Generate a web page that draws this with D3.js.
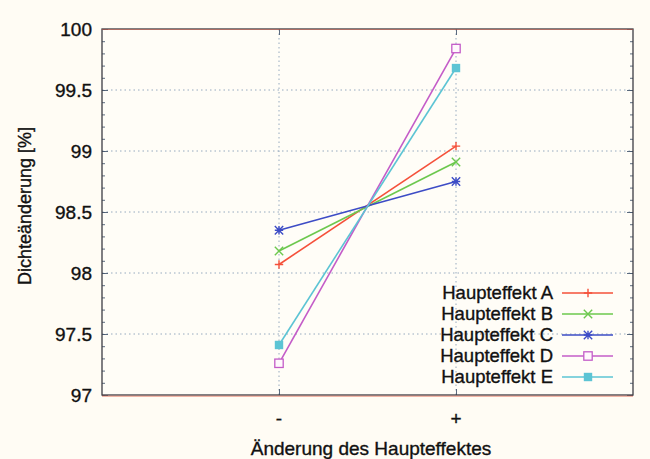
<!DOCTYPE html>
<html>
<head>
<meta charset="utf-8">
<script src="https://cdn.jsdelivr.net/npm/d3@7"></script>
<style>
  html, body { margin: 0; padding: 0; background: #fffcf4; }
  svg { display: block; font-family: "Liberation Sans", Arial, sans-serif; }
  .lbl { fill: #111; stroke: #111; stroke-width: 0.35px; }
</style>
</head>
<body>
<svg id="chart" width="650" height="459"></svg>
<script>
// Factor levels on the x axis
const levels = ["-", "+"];
// Series names and density change [%] at each level
const seriesNames = ["Haupteffekt A", "Haupteffekt B", "Haupteffekt C", "Haupteffekt D", "Haupteffekt E"];
const valuesA = [98.07, 99.04];
const valuesB = [98.18, 98.91];
const valuesC = [98.35, 98.75];
const valuesD = [97.26, 99.84];
const valuesE = [97.41, 99.68];
const yTicks = [97, 97.5, 98, 98.5, 99, 99.5, 100];

const seriesValues = [valuesA, valuesB, valuesC, valuesD, valuesE];
const colors = ["#f5503a", "#6cc84e", "#3d4cc6", "#c45cc8", "#5cc4d4"];
const markers = ["plus", "cross", "star", "square", "filled"];

const svg = d3.select("#chart");
const plotLeft = 102, plotRight = 633, plotTop = 29, plotBottom = 395;

const x = d3.scaleLinear().domain([0, 3]).range([plotLeft, plotRight]);
const y = d3.scaleLinear().domain([97, 100]).range([plotBottom, plotTop]);

// plot background
svg.append("rect").attr("x", plotLeft).attr("y", plotTop)
  .attr("width", plotRight - plotLeft).attr("height", plotBottom - plotTop)
  .attr("fill", "#fffdf7");

// dotted grid
const grid = svg.append("g").attr("stroke", "#8aa0b8").attr("stroke-width", 0.9)
  .attr("stroke-dasharray", "1.5,3");
yTicks.slice(1, -1).forEach(v => {
  grid.append("line").attr("x1", plotLeft).attr("x2", plotRight)
    .attr("y1", y(v)).attr("y2", y(v));
});
levels.forEach((l, i) => {
  grid.append("line").attr("x1", x(i + 1)).attr("x2", x(i + 1))
    .attr("y1", plotTop).attr("y2", plotBottom);
});

// y axis (left and right) with minor ticks inside the frame
const minor = d3.range(97, 100.001, 0.1).map(v => +v.toFixed(1));
const yAxisL = d3.axisRight(y).tickValues(yTicks).tickFormat("").tickSize(6);
const yAxisLMinor = d3.axisRight(y).tickValues(minor).tickFormat("").tickSize(3);
const yAxisR = d3.axisLeft(y).tickValues(yTicks).tickFormat("").tickSize(6);
const yAxisRMinor = d3.axisLeft(y).tickValues(minor).tickFormat("").tickSize(3);
[[yAxisL, plotLeft], [yAxisLMinor, plotLeft], [yAxisR, plotRight], [yAxisRMinor, plotRight]].forEach(([ax, px]) => {
  const g = svg.append("g").attr("transform", `translate(${px},0)`).call(ax);
  g.select(".domain").remove();
  g.selectAll("line").attr("stroke", "#4a5a70").attr("stroke-width", 0.9);
});

// y tick labels
svg.append("g").selectAll("text").data(yTicks).join("text")
  .attr("class", "lbl")
  .attr("x", 92).attr("y", d => y(d)).attr("dy", "0.35em")
  .attr("text-anchor", "end").attr("font-size", 19)
  .text(d => d3.format("~g")(d));

// x axis ticks (bottom and top)
const xAxisB = d3.axisTop(x).tickValues([1, 2]).tickFormat("").tickSize(6);
const xAxisT = d3.axisBottom(x).tickValues([1, 2]).tickFormat("").tickSize(6);
[[xAxisB, plotBottom], [xAxisT, plotTop]].forEach(([ax, py]) => {
  const g = svg.append("g").attr("transform", `translate(0,${py})`).call(ax);
  g.select(".domain").remove();
  g.selectAll("line").attr("stroke", "#4a5a70").attr("stroke-width", 0.9);
});
svg.append("g").selectAll("text").data(levels).join("text")
  .attr("class", "lbl")
  .attr("x", (d, i) => x(i + 1)).attr("y", 418).attr("dy", "0.35em")
  .attr("text-anchor", "middle").attr("font-size", 19)
  .text(d => d);

// frame
svg.append("rect").attr("x", plotLeft).attr("y", plotTop)
  .attr("width", plotRight - plotLeft).attr("height", plotBottom - plotTop)
  .attr("fill", "none").attr("stroke", "#3c3c44").attr("stroke-width", 1.3);
svg.append("line").attr("x1", plotLeft).attr("x2", plotRight).attr("y1", plotTop + 0.5).attr("y2", plotTop + 0.5)
  .attr("stroke", "#d0604c").attr("stroke-width", 0.8).attr("opacity", 0.7);
svg.append("line").attr("x1", plotLeft).attr("x2", plotRight).attr("y1", plotBottom + 1.2).attr("y2", plotBottom + 1.2)
  .attr("stroke", "#e8705a").attr("stroke-width", 0.9).attr("opacity", 0.8);

// marker drawing
function drawMarker(g, type, cx, cy, color) {
  const s = 4.2;
  if (type === "plus") {
    g.append("path").attr("d", `M${cx - s},${cy}H${cx + s}M${cx},${cy - s}V${cy + s}`)
      .attr("stroke", color).attr("stroke-width", 1.4).attr("fill", "none");
  } else if (type === "cross") {
    g.append("path").attr("d", `M${cx - s},${cy - s}L${cx + s},${cy + s}M${cx - s},${cy + s}L${cx + s},${cy - s}`)
      .attr("stroke", color).attr("stroke-width", 1.4).attr("fill", "none");
  } else if (type === "star") {
    g.append("path").attr("d", `M${cx - s},${cy}H${cx + s}M${cx},${cy - s}V${cy + s}M${cx - s},${cy - s}L${cx + s},${cy + s}M${cx - s},${cy + s}L${cx + s},${cy - s}`)
      .attr("stroke", color).attr("stroke-width", 1.4).attr("fill", "none");
  } else if (type === "square") {
    g.append("rect").attr("x", cx - s).attr("y", cy - s).attr("width", 2 * s).attr("height", 2 * s)
      .attr("stroke", color).attr("stroke-width", 1.3).attr("fill", "#fff8fc");
  } else {
    g.append("rect").attr("x", cx - s).attr("y", cy - s).attr("width", 2 * s).attr("height", 2 * s)
      .attr("fill", color);
  }
}

// series lines and markers
const line = d3.line().x((d, i) => x(i + 1)).y(d => y(d));
const plot = svg.append("g");
seriesValues.forEach((vals, k) => {
  plot.append("path").attr("d", line(vals)).attr("fill", "none")
    .attr("stroke", colors[k]).attr("stroke-width", 1.6);
});
seriesValues.forEach((vals, k) => {
  vals.forEach((v, i) => drawMarker(plot, markers[k], x(i + 1), y(v), colors[k]));
});

// legend
const legend = svg.append("g");
seriesNames.forEach((name, k) => {
  const ly = 293 + k * 21;
  legend.append("text").attr("class", "lbl")
    .attr("x", 553).attr("y", ly).attr("dy", "0.35em")
    .attr("text-anchor", "end").attr("font-size", 18.5).text(name);
  legend.append("line").attr("x1", 562).attr("x2", 613).attr("y1", ly).attr("y2", ly)
    .attr("stroke", colors[k]).attr("stroke-width", 1.6);
  drawMarker(legend, markers[k], 588, ly, colors[k]);
});

// axis titles
svg.append("text").attr("class", "lbl")
  .attr("x", 371).attr("y", 448).attr("dy", "0.35em")
  .attr("text-anchor", "middle").attr("font-size", 19)
  .text("Änderung des Haupteffektes");
svg.append("text").attr("class", "lbl")
  .attr("transform", "translate(25,206) rotate(-90)").attr("dy", "0.35em")
  .attr("text-anchor", "middle").attr("font-size", 18)
  .text("Dichteänderung [%]");
</script>
</body>
</html>
